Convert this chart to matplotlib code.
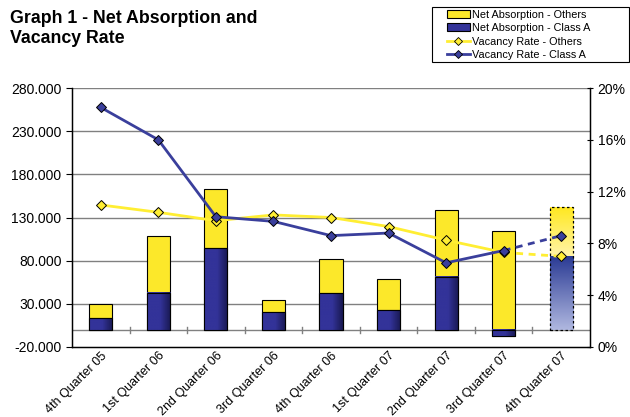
import numpy as np
import matplotlib.pyplot as plt
from matplotlib.colors import LinearSegmentedColormap
from matplotlib.patches import Rectangle, Patch
from matplotlib.lines import Line2D
from matplotlib.ticker import FuncFormatter

plt.rcParams["font.family"] = ["Liberation Sans", "DejaVu Sans"]

# Datos
trimestres = ["4th Quarter 05", "1st Quarter 06", "2nd Quarter 06", "3rd Quarter 06",
              "4th Quarter 06", "1st Quarter 07", "2nd Quarter 07", "3rd Quarter 07",
              "4th Quarter 07"]
absorcion_clase_a = [13500, 43000, 94600, 20800, 42300, 23000, 61500, -7700, 85400]
absorcion_otros = [16500, 65500, 68400, 13800, 39300, 35500, 77500, 114600, 56200]
vacancia_clase_a = [0.185, 0.160, 0.1006, 0.097, 0.086, 0.088, 0.065, 0.0745, 0.086]
vacancia_otros = [0.1097, 0.104, 0.0975, 0.102, 0.100, 0.093, 0.0825, 0.073, 0.070]
ticks_izq = [-20000, 30000, 80000, 130000, 180000, 230000, 280000]
ticks_der = [0, 0.04, 0.08, 0.12, 0.16, 0.20]

AMARILLO = "#FCE82A"
AZUL = "#333399"
AZUL_LINEA = "#3A3F9C"
AMARILLO_LINEA = "#FFEE33"


def relleno_degradado(ax, rect, colores, horizontal=True):
    """Rellena un rectangulo con un degradado usando imshow"""
    x, y = rect.get_x(), rect.get_y()
    w, h = rect.get_width(), rect.get_height()
    cmap = LinearSegmentedColormap.from_list("g", colores)
    grad = np.linspace(0, 1, 200)
    grad = grad.reshape(1, -1) if horizontal else grad.reshape(-1, 1)
    y0, y1 = min(y, y + h), max(y, y + h)
    ax.imshow(grad, cmap=cmap, extent=(x, x + w, y0, y1), aspect="auto",
              origin="lower", zorder=rect.get_zorder() + 0.1, interpolation="bilinear")
    ax.add_patch(Rectangle((x, y), w, h, fill=False, edgecolor="black",
                           linewidth=rect.get_linewidth(), linestyle=rect.get_linestyle(),
                           zorder=rect.get_zorder() + 0.2))


fig = plt.figure(figsize=(6.3, 4.17), dpi=100)
ax = fig.add_axes([72 / 630, 70 / 417, 518 / 630, 259 / 417])
ax2 = ax.twinx()

n = len(trimestres)
x = np.arange(n)
ancho = 0.4
real = x[:-1]

a = np.array(absorcion_clase_a, dtype=float)
o = np.array(absorcion_otros, dtype=float)
base_otros = np.clip(a, 0, None)

barras_a = ax.bar(x, a, ancho, color=AZUL, edgecolor="black", linewidth=0.8, zorder=3)
barras_o = ax.bar(x, o, ancho, bottom=base_otros, color=AMARILLO, edgecolor="black",
                  linewidth=0.8, zorder=3)

# Sombreado de las barras azules reales
for rect in list(barras_a)[:-1]:
    rect.set_facecolor("none")
    relleno_degradado(ax, rect, [(0, AZUL), (0.55, AZUL), (1, "#181850")])

# Barra de pronostico (ultimo trimestre)
ba, bo = barras_a[-1], barras_o[-1]
for r in (ba, bo):
    r.set_visible(False)
relleno_degradado(ax, ba, ["#B0B8E0", "#2A3A94"], horizontal=False)
relleno_degradado(ax, bo, ["#FFF4A8", "#FFE820"], horizontal=False)
for r in ax.patches[-2:]:
    r.set_edgecolor("none")
ax.add_patch(Rectangle((ba.get_x(), 0), ancho, a[-1] + o[-1], fill=False,
                       edgecolor="black", linestyle=(0, (2, 2)), linewidth=0.9, zorder=5))

# Grilla y ejes
ax.set_xlim(-0.5, n - 0.5)
ax.set_ylim(ticks_izq[0], ticks_izq[-1])
ax.set_yticks(ticks_izq)
ax.yaxis.set_major_formatter(FuncFormatter(lambda v, p: f"{v:,.0f}".replace(",", ".")))
for t in ticks_izq[1:]:
    ax.axhline(t, color="#808080", linewidth=1.0, zorder=1)
ax.axhline(0, color="#808080", linewidth=1.0, zorder=2)
for b in np.arange(0.5, n - 0.5):
    ax.plot([b, b], [-3500, 3500], color="#808080", linewidth=1.0, zorder=2)

ax.set_xticks(x)
ax.set_xticklabels(trimestres, rotation=45, ha="right", va="top",
                   rotation_mode="anchor", fontsize=9.0)
ax.tick_params(axis="x", length=0, pad=2)
ax.tick_params(axis="y", labelsize=10, length=4, width=0.8, direction="out")
ax.spines["top"].set_visible(False)
ax.spines["bottom"].set_linewidth(1.0)
ax.spines["left"].set_linewidth(1.0)

# Tasas de vacancia
ax2.plot(real, vacancia_otros[:-1], color=AMARILLO_LINEA, linewidth=2, zorder=4)
ax2.plot(x[-2:], vacancia_otros[-2:], color=AMARILLO_LINEA, linewidth=2,
         dashes=(2.5, 2), zorder=4)
ax2.plot(x, vacancia_otros, linestyle="none", marker="D", markersize=5.5,
         markerfacecolor=AMARILLO_LINEA, markeredgecolor="black", markeredgewidth=0.7, zorder=5)
ax2.plot(real, vacancia_clase_a[:-1], color=AZUL_LINEA, linewidth=2, zorder=6)
ax2.plot(x[-2:], vacancia_clase_a[-2:], color=AZUL_LINEA, linewidth=2,
         dashes=(2.5, 2), zorder=6)
ax2.plot(x, vacancia_clase_a, linestyle="none", marker="D", markersize=5.5,
         markerfacecolor=AZUL_LINEA, markeredgecolor="black", markeredgewidth=0.7, zorder=7)

ax2.set_ylim(ticks_der[0], ticks_der[-1])
ax2.set_yticks(ticks_der)
ax2.yaxis.set_major_formatter(FuncFormatter(lambda v, p: f"{v * 100:.0f}%"))
ax2.tick_params(axis="y", labelsize=10, length=4, width=0.8, direction="inout")
ax2.spines["top"].set_visible(False)
ax2.spines["right"].set_linewidth(1.0)

# Titulo
fig.text(10 / 630, 1 - 10 / 417, "Graph 1 - Net Absorption and\nVacancy Rate",
         fontsize=12.8, fontweight="bold", va="top", ha="left", linespacing=1.25)

# Leyenda (marco dibujado aparte)
fig.patches.append(Rectangle((432 / 630, 1 - 62 / 417), 197 / 630, 55 / 417,
                             transform=fig.transFigure, fill=False,
                             edgecolor="black", linewidth=0.8))
handles = [
    Patch(facecolor=AMARILLO, edgecolor="black", linewidth=0.8),
    Patch(facecolor=AZUL, edgecolor="black", linewidth=0.8),
    Line2D([], [], color=AMARILLO_LINEA, linewidth=2, marker="D", markersize=4.5,
           markerfacecolor=AMARILLO_LINEA, markeredgecolor="black", markeredgewidth=0.6),
    Line2D([], [], color=AZUL_LINEA, linewidth=2, marker="D", markersize=4.5,
           markerfacecolor=AZUL_LINEA, markeredgecolor="black", markeredgewidth=0.6),
]
etiquetas = ["Net Absorption - Others", "Net Absorption - Class A",
             "Vacancy Rate - Others", "Vacancy Rate - Class A"]
fig.legend(handles, etiquetas, loc="upper left",
           bbox_to_anchor=(447 / 630, 1 - 9.5 / 417),
           fontsize=7.8, frameon=False, borderpad=0, labelspacing=0.33,
           handlelength=2.1, handletextpad=0.2, borderaxespad=0)

fig.savefig("out.png", dpi=100)
